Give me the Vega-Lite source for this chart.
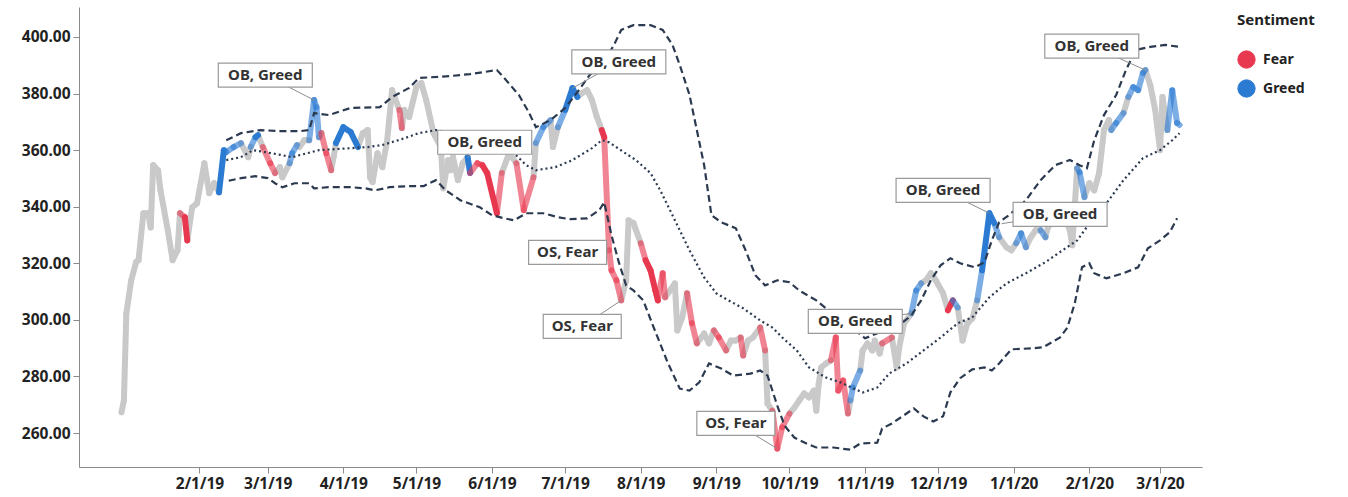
{
  "$schema": "https://vega.github.io/schema/vega-lite/v6.json",
  "autosize": {"type": "none"},
  "width": 1123,
  "height": 460,
  "padding": {"left": 79, "top": 7, "right": 146, "bottom": 30},
  "background": "white",
  "config": {
    "view": {"stroke": null},
    "font": "Noto Sans",
    "axis": {"labelFont": "Noto Sans", "labelFontSize": 15.5, "labelFontWeight": "bold", "labelColor": "#222222", "domainColor": "#8a8a8a", "tickColor": "#8a8a8a", "tickSize": 6, "grid": false, "title": null}
  },
  "encoding": {
    "x": {"field": "date", "type": "temporal",
      "scale": {"type": "utc", "domain": [{"year": 2018, "month": 12, "date": 13, "hours": 14, "utc": true}, {"year": 2020, "month": 3, "date": 18, "hours": 5, "utc": true}]},
      "axis": {"values": [
        {"year": 2019, "month": 2, "date": 1, "utc": true}, {"year": 2019, "month": 3, "date": 1, "utc": true}, {"year": 2019, "month": 4, "date": 1, "utc": true},
        {"year": 2019, "month": 5, "date": 1, "utc": true}, {"year": 2019, "month": 6, "date": 1, "utc": true}, {"year": 2019, "month": 7, "date": 1, "utc": true},
        {"year": 2019, "month": 8, "date": 1, "utc": true}, {"year": 2019, "month": 9, "date": 1, "utc": true}, {"year": 2019, "month": 10, "date": 1, "utc": true},
        {"year": 2019, "month": 11, "date": 1, "utc": true}, {"year": 2019, "month": 12, "date": 1, "utc": true}, {"year": 2020, "month": 1, "date": 1, "utc": true},
        {"year": 2020, "month": 2, "date": 1, "utc": true}, {"year": 2020, "month": 3, "date": 1, "utc": true}],
        "labelExpr": "utcFormat(datum.value, '%-m/%-d/%y')", "labelPadding": 3, "labelOverlap": false}},
    "y": {"field": "value", "type": "quantitative",
      "scale": {"domain": [248, 410.6], "nice": false, "zero": false},
      "axis": {"values": [260, 280, 300, 320, 340, 360, 380, 400], "format": ".2f", "labelPadding": 3}}
  },
  "layer": [
    {
      "data": {"format": {"parse": {"date": "date"}}, "values": [
        {"date": "2018-12-31", "value": 267.3, "sentiment": "Neutral"},
        {"date": "2019-01-01", "value": 271.5, "sentiment": "Neutral"},
        {"date": "2019-01-02", "value": 302.3, "sentiment": "Neutral"},
        {"date": "2019-01-04", "value": 314.0, "sentiment": "Neutral"},
        {"date": "2019-01-06", "value": 320.4, "sentiment": "Neutral"},
        {"date": "2019-01-07", "value": 321.1, "sentiment": "Neutral"},
        {"date": "2019-01-09", "value": 337.7, "sentiment": "Neutral"},
        {"date": "2019-01-11", "value": 337.7, "sentiment": "Neutral"},
        {"date": "2019-01-12", "value": 332.7, "sentiment": "Neutral"},
        {"date": "2019-01-13", "value": 354.7, "sentiment": "Neutral"},
        {"date": "2019-01-15", "value": 352.9, "sentiment": "Neutral"},
        {"date": "2019-01-16", "value": 345.8, "sentiment": "Neutral"},
        {"date": "2019-01-19", "value": 331.7, "sentiment": "Neutral"},
        {"date": "2019-01-21", "value": 321.1, "sentiment": "Neutral"},
        {"date": "2019-01-23", "value": 324.6, "sentiment": "Neutral"},
        {"date": "2019-01-24", "value": 337.7, "sentiment": "Fear", "signal": "weak"},
        {"date": "2019-01-26", "value": 336.3, "sentiment": "Fear", "signal": "strong"},
        {"date": "2019-01-27", "value": 328.1, "sentiment": "Neutral"},
        {"date": "2019-01-29", "value": 339.8, "sentiment": "Neutral"},
        {"date": "2019-01-31", "value": 341.2, "sentiment": "Neutral"},
        {"date": "2019-02-03", "value": 355.4, "sentiment": "Neutral"},
        {"date": "2019-02-05", "value": 344.8, "sentiment": "Neutral"},
        {"date": "2019-02-07", "value": 348.3, "sentiment": "Neutral"},
        {"date": "2019-02-09", "value": 345.1, "sentiment": "Greed", "signal": "strong"},
        {"date": "2019-02-11", "value": 360.0, "sentiment": "Greed", "signal": "weak"},
        {"date": "2019-02-12", "value": 359.3, "sentiment": "Greed", "signal": "weak"},
        {"date": "2019-02-15", "value": 361.1, "sentiment": "Greed", "signal": "weak"},
        {"date": "2019-02-18", "value": 362.5, "sentiment": "Neutral"},
        {"date": "2019-02-21", "value": 357.5, "sentiment": "Neutral"},
        {"date": "2019-02-22", "value": 361.1, "sentiment": "Greed", "signal": "weak"},
        {"date": "2019-02-24", "value": 364.6, "sentiment": "Greed", "signal": "strong"},
        {"date": "2019-02-25", "value": 365.3, "sentiment": "Neutral"},
        {"date": "2019-02-27", "value": 361.1, "sentiment": "Fear", "signal": "weak"},
        {"date": "2019-03-02", "value": 355.4, "sentiment": "Fear", "signal": "weak"},
        {"date": "2019-03-04", "value": 351.9, "sentiment": "Neutral"},
        {"date": "2019-03-06", "value": 354.0, "sentiment": "Neutral"},
        {"date": "2019-03-07", "value": 350.4, "sentiment": "Neutral"},
        {"date": "2019-03-10", "value": 355.4, "sentiment": "Greed", "signal": "weak"},
        {"date": "2019-03-11", "value": 358.9, "sentiment": "Greed", "signal": "weak"},
        {"date": "2019-03-13", "value": 361.8, "sentiment": "Neutral"},
        {"date": "2019-03-14", "value": 361.1, "sentiment": "Neutral"},
        {"date": "2019-03-16", "value": 363.5, "sentiment": "Neutral"},
        {"date": "2019-03-18", "value": 363.5, "sentiment": "Greed", "signal": "weak"},
        {"date": "2019-03-20", "value": 377.7, "sentiment": "Greed", "signal": "weak"},
        {"date": "2019-03-21", "value": 375.2, "sentiment": "Greed", "signal": "weak"},
        {"date": "2019-03-22", "value": 364.6, "sentiment": "Neutral"},
        {"date": "2019-03-23", "value": 366.0, "sentiment": "Fear", "signal": "weak"},
        {"date": "2019-03-25", "value": 358.9, "sentiment": "Fear", "signal": "weak"},
        {"date": "2019-03-27", "value": 352.9, "sentiment": "Neutral"},
        {"date": "2019-03-28", "value": 357.5, "sentiment": "Neutral"},
        {"date": "2019-03-29", "value": 362.5, "sentiment": "Greed", "signal": "strong"},
        {"date": "2019-04-01", "value": 368.1, "sentiment": "Greed", "signal": "strong"},
        {"date": "2019-04-04", "value": 366.4, "sentiment": "Greed", "signal": "strong"},
        {"date": "2019-04-07", "value": 361.1, "sentiment": "Neutral"},
        {"date": "2019-04-09", "value": 366.0, "sentiment": "Neutral"},
        {"date": "2019-04-11", "value": 367.1, "sentiment": "Neutral"},
        {"date": "2019-04-12", "value": 350.4, "sentiment": "Neutral"},
        {"date": "2019-04-13", "value": 348.7, "sentiment": "Neutral"},
        {"date": "2019-04-15", "value": 358.9, "sentiment": "Neutral"},
        {"date": "2019-04-17", "value": 354.0, "sentiment": "Neutral"},
        {"date": "2019-04-19", "value": 363.5, "sentiment": "Neutral"},
        {"date": "2019-04-21", "value": 381.2, "sentiment": "Neutral"},
        {"date": "2019-04-24", "value": 374.2, "sentiment": "Fear", "signal": "weak"},
        {"date": "2019-04-25", "value": 367.8, "sentiment": "Neutral"},
        {"date": "2019-04-26", "value": 374.2, "sentiment": "Neutral"},
        {"date": "2019-04-28", "value": 371.7, "sentiment": "Neutral"},
        {"date": "2019-05-01", "value": 382.3, "sentiment": "Neutral"},
        {"date": "2019-05-03", "value": 383.7, "sentiment": "Neutral"},
        {"date": "2019-05-05", "value": 377.7, "sentiment": "Neutral"},
        {"date": "2019-05-08", "value": 366.0, "sentiment": "Neutral"},
        {"date": "2019-05-11", "value": 361.1, "sentiment": "Neutral"},
        {"date": "2019-05-12", "value": 346.5, "sentiment": "Neutral"},
        {"date": "2019-05-14", "value": 356.5, "sentiment": "Neutral"},
        {"date": "2019-05-15", "value": 352.9, "sentiment": "Neutral"},
        {"date": "2019-05-16", "value": 357.5, "sentiment": "Neutral"},
        {"date": "2019-05-18", "value": 349.4, "sentiment": "Neutral"},
        {"date": "2019-05-20", "value": 355.4, "sentiment": "Neutral"},
        {"date": "2019-05-22", "value": 357.5, "sentiment": "Greed", "signal": "strong"},
        {"date": "2019-05-23", "value": 351.9, "sentiment": "Fear", "signal": "weak"},
        {"date": "2019-05-26", "value": 355.4, "sentiment": "Fear", "signal": "weak"},
        {"date": "2019-05-28", "value": 354.7, "sentiment": "Fear", "signal": "strong"},
        {"date": "2019-05-30", "value": 351.9, "sentiment": "Fear", "signal": "strong"},
        {"date": "2019-06-03", "value": 337.7, "sentiment": "Fear", "signal": "weak"},
        {"date": "2019-06-05", "value": 351.9, "sentiment": "Neutral"},
        {"date": "2019-06-08", "value": 358.9, "sentiment": "Neutral"},
        {"date": "2019-06-11", "value": 355.4, "sentiment": "Fear", "signal": "weak"},
        {"date": "2019-06-14", "value": 338.8, "sentiment": "Fear", "signal": "weak"},
        {"date": "2019-06-18", "value": 350.4, "sentiment": "Neutral"},
        {"date": "2019-06-19", "value": 362.5, "sentiment": "Greed", "signal": "weak"},
        {"date": "2019-06-22", "value": 368.1, "sentiment": "Greed", "signal": "weak"},
        {"date": "2019-06-25", "value": 370.6, "sentiment": "Neutral"},
        {"date": "2019-06-26", "value": 361.1, "sentiment": "Neutral"},
        {"date": "2019-06-28", "value": 368.1, "sentiment": "Greed", "signal": "weak"},
        {"date": "2019-07-01", "value": 374.2, "sentiment": "Greed", "signal": "strong"},
        {"date": "2019-07-04", "value": 381.9, "sentiment": "Greed", "signal": "strong"},
        {"date": "2019-07-06", "value": 378.8, "sentiment": "Neutral"},
        {"date": "2019-07-08", "value": 380.2, "sentiment": "Neutral"},
        {"date": "2019-07-10", "value": 381.2, "sentiment": "Neutral"},
        {"date": "2019-07-12", "value": 377.7, "sentiment": "Neutral"},
        {"date": "2019-07-14", "value": 371.7, "sentiment": "Neutral"},
        {"date": "2019-07-16", "value": 367.1, "sentiment": "Fear", "signal": "strong"},
        {"date": "2019-07-17", "value": 364.6, "sentiment": "Fear", "signal": "weak"},
        {"date": "2019-07-19", "value": 324.6, "sentiment": "Fear", "signal": "weak"},
        {"date": "2019-07-20", "value": 317.5, "sentiment": "Fear", "signal": "weak"},
        {"date": "2019-07-22", "value": 314.0, "sentiment": "Fear", "signal": "weak"},
        {"date": "2019-07-24", "value": 306.9, "sentiment": "Neutral"},
        {"date": "2019-07-26", "value": 314.0, "sentiment": "Neutral"},
        {"date": "2019-07-27", "value": 335.2, "sentiment": "Neutral"},
        {"date": "2019-07-29", "value": 334.2, "sentiment": "Neutral"},
        {"date": "2019-08-01", "value": 327.1, "sentiment": "Fear", "signal": "weak"},
        {"date": "2019-08-03", "value": 321.1, "sentiment": "Fear", "signal": "strong"},
        {"date": "2019-08-05", "value": 317.5, "sentiment": "Fear", "signal": "strong"},
        {"date": "2019-08-07", "value": 310.4, "sentiment": "Fear", "signal": "strong"},
        {"date": "2019-08-08", "value": 306.9, "sentiment": "Fear", "signal": "weak"},
        {"date": "2019-08-10", "value": 316.5, "sentiment": "Fear", "signal": "weak"},
        {"date": "2019-08-11", "value": 308.0, "sentiment": "Neutral"},
        {"date": "2019-08-13", "value": 310.4, "sentiment": "Neutral"},
        {"date": "2019-08-15", "value": 312.9, "sentiment": "Neutral"},
        {"date": "2019-08-16", "value": 296.3, "sentiment": "Neutral"},
        {"date": "2019-08-18", "value": 300.9, "sentiment": "Neutral"},
        {"date": "2019-08-20", "value": 309.4, "sentiment": "Fear", "signal": "weak"},
        {"date": "2019-08-22", "value": 298.8, "sentiment": "Fear", "signal": "weak"},
        {"date": "2019-08-24", "value": 291.7, "sentiment": "Neutral"},
        {"date": "2019-08-27", "value": 295.2, "sentiment": "Neutral"},
        {"date": "2019-08-29", "value": 291.7, "sentiment": "Neutral"},
        {"date": "2019-08-31", "value": 296.3, "sentiment": "Fear", "signal": "weak"},
        {"date": "2019-09-02", "value": 293.8, "sentiment": "Fear", "signal": "weak"},
        {"date": "2019-09-05", "value": 289.2, "sentiment": "Neutral"},
        {"date": "2019-09-07", "value": 292.7, "sentiment": "Neutral"},
        {"date": "2019-09-09", "value": 292.7, "sentiment": "Neutral"},
        {"date": "2019-09-11", "value": 293.8, "sentiment": "Fear", "signal": "weak"},
        {"date": "2019-09-12", "value": 287.4, "sentiment": "Neutral"},
        {"date": "2019-09-14", "value": 292.7, "sentiment": "Neutral"},
        {"date": "2019-09-16", "value": 293.8, "sentiment": "Neutral"},
        {"date": "2019-09-19", "value": 297.3, "sentiment": "Fear", "signal": "weak"},
        {"date": "2019-09-21", "value": 289.2, "sentiment": "Neutral"},
        {"date": "2019-09-22", "value": 270.4, "sentiment": "Neutral"},
        {"date": "2019-09-24", "value": 267.9, "sentiment": "Fear", "signal": "weak"},
        {"date": "2019-09-26", "value": 254.5, "sentiment": "Fear", "signal": "weak"},
        {"date": "2019-09-28", "value": 262.0, "sentiment": "Fear", "signal": "weak"},
        {"date": "2019-10-01", "value": 266.9, "sentiment": "Neutral"},
        {"date": "2019-10-03", "value": 269.0, "sentiment": "Neutral"},
        {"date": "2019-10-05", "value": 271.5, "sentiment": "Neutral"},
        {"date": "2019-10-07", "value": 274.0, "sentiment": "Neutral"},
        {"date": "2019-10-09", "value": 272.6, "sentiment": "Neutral"},
        {"date": "2019-10-11", "value": 275.0, "sentiment": "Neutral"},
        {"date": "2019-10-12", "value": 267.9, "sentiment": "Neutral"},
        {"date": "2019-10-13", "value": 277.5, "sentiment": "Neutral"},
        {"date": "2019-10-14", "value": 283.2, "sentiment": "Neutral"},
        {"date": "2019-10-16", "value": 284.6, "sentiment": "Neutral"},
        {"date": "2019-10-18", "value": 285.7, "sentiment": "Fear", "signal": "weak"},
        {"date": "2019-10-20", "value": 293.8, "sentiment": "Fear", "signal": "weak"},
        {"date": "2019-10-21", "value": 275.0, "sentiment": "Fear", "signal": "weak"},
        {"date": "2019-10-23", "value": 278.6, "sentiment": "Fear", "signal": "weak"},
        {"date": "2019-10-25", "value": 266.9, "sentiment": "Neutral"},
        {"date": "2019-10-26", "value": 271.5, "sentiment": "Greed", "signal": "weak"},
        {"date": "2019-10-27", "value": 276.1, "sentiment": "Greed", "signal": "weak"},
        {"date": "2019-10-30", "value": 282.1, "sentiment": "Neutral"},
        {"date": "2019-10-31", "value": 289.2, "sentiment": "Neutral"},
        {"date": "2019-11-02", "value": 291.7, "sentiment": "Neutral"},
        {"date": "2019-11-04", "value": 289.2, "sentiment": "Neutral"},
        {"date": "2019-11-05", "value": 292.7, "sentiment": "Neutral"},
        {"date": "2019-11-07", "value": 288.1, "sentiment": "Neutral"},
        {"date": "2019-11-08", "value": 291.7, "sentiment": "Fear", "signal": "weak"},
        {"date": "2019-11-12", "value": 293.8, "sentiment": "Neutral"},
        {"date": "2019-11-14", "value": 283.2, "sentiment": "Neutral"},
        {"date": "2019-11-15", "value": 290.3, "sentiment": "Neutral"},
        {"date": "2019-11-17", "value": 298.8, "sentiment": "Neutral"},
        {"date": "2019-11-20", "value": 302.3, "sentiment": "Greed", "signal": "weak"},
        {"date": "2019-11-22", "value": 310.4, "sentiment": "Greed", "signal": "weak"},
        {"date": "2019-11-24", "value": 312.9, "sentiment": "Neutral"},
        {"date": "2019-11-26", "value": 314.0, "sentiment": "Neutral"},
        {"date": "2019-11-28", "value": 316.5, "sentiment": "Neutral"},
        {"date": "2019-11-30", "value": 314.0, "sentiment": "Neutral"},
        {"date": "2019-12-03", "value": 309.4, "sentiment": "Neutral"},
        {"date": "2019-12-05", "value": 303.4, "sentiment": "Fear", "signal": "strong"},
        {"date": "2019-12-07", "value": 306.9, "sentiment": "Greed", "signal": "weak"},
        {"date": "2019-12-09", "value": 304.4, "sentiment": "Neutral"},
        {"date": "2019-12-11", "value": 292.7, "sentiment": "Neutral"},
        {"date": "2019-12-13", "value": 298.8, "sentiment": "Neutral"},
        {"date": "2019-12-15", "value": 300.5, "sentiment": "Neutral"},
        {"date": "2019-12-17", "value": 306.9, "sentiment": "Greed", "signal": "weak"},
        {"date": "2019-12-19", "value": 317.5, "sentiment": "Greed", "signal": "strong"},
        {"date": "2019-12-22", "value": 337.7, "sentiment": "Greed", "signal": "strong"},
        {"date": "2019-12-24", "value": 334.2, "sentiment": "Greed", "signal": "weak"},
        {"date": "2019-12-26", "value": 329.2, "sentiment": "Neutral"},
        {"date": "2019-12-29", "value": 325.7, "sentiment": "Neutral"},
        {"date": "2019-12-31", "value": 324.6, "sentiment": "Neutral"},
        {"date": "2020-01-02", "value": 327.1, "sentiment": "Greed", "signal": "weak"},
        {"date": "2020-01-04", "value": 330.6, "sentiment": "Greed", "signal": "weak"},
        {"date": "2020-01-06", "value": 325.7, "sentiment": "Neutral"},
        {"date": "2020-01-08", "value": 329.2, "sentiment": "Neutral"},
        {"date": "2020-01-10", "value": 331.7, "sentiment": "Neutral"},
        {"date": "2020-01-12", "value": 331.7, "sentiment": "Greed", "signal": "weak"},
        {"date": "2020-01-14", "value": 329.2, "sentiment": "Neutral"},
        {"date": "2020-01-15", "value": 332.7, "sentiment": "Neutral"},
        {"date": "2020-01-18", "value": 336.3, "sentiment": "Neutral"},
        {"date": "2020-01-22", "value": 336.3, "sentiment": "Neutral"},
        {"date": "2020-01-24", "value": 331.7, "sentiment": "Neutral"},
        {"date": "2020-01-25", "value": 326.4, "sentiment": "Neutral"},
        {"date": "2020-01-27", "value": 353.6, "sentiment": "Greed", "signal": "weak"},
        {"date": "2020-01-28", "value": 352.2, "sentiment": "Greed", "signal": "weak"},
        {"date": "2020-01-30", "value": 343.4, "sentiment": "Neutral"},
        {"date": "2020-02-01", "value": 348.3, "sentiment": "Neutral"},
        {"date": "2020-02-03", "value": 345.8, "sentiment": "Neutral"},
        {"date": "2020-02-05", "value": 351.9, "sentiment": "Neutral"},
        {"date": "2020-02-07", "value": 367.1, "sentiment": "Neutral"},
        {"date": "2020-02-09", "value": 370.6, "sentiment": "Neutral"},
        {"date": "2020-02-10", "value": 367.1, "sentiment": "Greed", "signal": "weak"},
        {"date": "2020-02-12", "value": 369.6, "sentiment": "Greed", "signal": "weak"},
        {"date": "2020-02-15", "value": 373.1, "sentiment": "Neutral"},
        {"date": "2020-02-17", "value": 378.8, "sentiment": "Greed", "signal": "weak"},
        {"date": "2020-02-19", "value": 382.3, "sentiment": "Greed", "signal": "weak"},
        {"date": "2020-02-21", "value": 381.2, "sentiment": "Greed", "signal": "weak"},
        {"date": "2020-02-23", "value": 387.3, "sentiment": "Greed", "signal": "weak"},
        {"date": "2020-02-24", "value": 388.3, "sentiment": "Neutral"},
        {"date": "2020-02-26", "value": 383.0, "sentiment": "Neutral"},
        {"date": "2020-02-28", "value": 374.2, "sentiment": "Neutral"},
        {"date": "2020-03-01", "value": 360.0, "sentiment": "Neutral"},
        {"date": "2020-03-02", "value": 378.8, "sentiment": "Neutral"},
        {"date": "2020-03-04", "value": 367.1, "sentiment": "Greed", "signal": "weak"},
        {"date": "2020-03-06", "value": 381.2, "sentiment": "Greed", "signal": "weak"},
        {"date": "2020-03-08", "value": 369.6, "sentiment": "Greed", "signal": "weak"},
        {"date": "2020-03-09", "value": 368.9, "sentiment": "Neutral"}
      ]},
      "transform": [
        {"window": [{"op": "lead", "field": "date", "as": "date2"}, {"op": "lead", "field": "value", "as": "value2"}], "sort": [{"field": "date", "order": "ascending"}]},
        {"filter": "datum.date2 != null"}
      ],
      "layer": [
        {
          "transform": [{"filter": "datum.sentiment === 'Neutral'"}],
          "mark": {"type": "rule", "strokeWidth": 6, "strokeCap": "round", "color": "#c9c9c9"},
          "encoding": {"x2": {"field": "date2"}, "y2": {"field": "value2"}}
        },
        {
          "transform": [{"filter": "datum.sentiment !== 'Neutral'"}],
          "mark": {"type": "rule", "strokeWidth": 6, "strokeCap": "round"},
          "encoding": {
            "x2": {"field": "date2"}, "y2": {"field": "value2"},
            "color": {"field": "sentiment", "type": "nominal",
              "scale": {"domain": ["Fear", "Greed"], "range": ["#e8384f", "#2b7bd3"]},
              "legend": {"title": "Sentiment", "orient": "none", "legendX": 1158, "legendY": 6,
                "symbolType": "circle", "symbolSize": 300, "symbolStrokeWidth": 1, "symbolOpacity": 1,
                "titleFont": "Noto Sans", "titleFontSize": 15, "titleFontWeight": "bold", "titleColor": "#222222", "titlePadding": 22,
                "labelFont": "Noto Sans", "labelFontSize": 14, "labelFontWeight": "bold", "labelColor": "#222222", "labelOffset": 7, "rowPadding": 6,
                "encode": {"symbols": {"update": {"fill": {"scale": "color", "field": "value"}, "strokeWidth": {"value": 1}, "opacity": {"value": 1}}}}}},
            "opacity": {"field": "signal", "type": "nominal", "scale": {"domain": ["strong", "weak"], "range": [1, 0.62]}, "legend": null}
          }
        }
      ]
    },
    {
      "data": {"format": {"parse": {"date": "date"}}, "values": [
        {"date": "2019-02-12", "band": "upper", "value": 363.5},
        {"date": "2019-02-18", "band": "upper", "value": 366.0},
        {"date": "2019-02-26", "band": "upper", "value": 367.1},
        {"date": "2019-03-06", "band": "upper", "value": 366.7},
        {"date": "2019-03-14", "band": "upper", "value": 366.7},
        {"date": "2019-03-18", "band": "upper", "value": 367.1},
        {"date": "2019-03-20", "band": "upper", "value": 373.1},
        {"date": "2019-03-26", "band": "upper", "value": 372.4},
        {"date": "2019-04-04", "band": "upper", "value": 374.9},
        {"date": "2019-04-16", "band": "upper", "value": 375.2},
        {"date": "2019-04-21", "band": "upper", "value": 378.8},
        {"date": "2019-04-28", "band": "upper", "value": 382.0},
        {"date": "2019-05-02", "band": "upper", "value": 385.5},
        {"date": "2019-05-15", "band": "upper", "value": 386.2},
        {"date": "2019-05-23", "band": "upper", "value": 386.9},
        {"date": "2019-06-03", "band": "upper", "value": 388.3},
        {"date": "2019-06-06", "band": "upper", "value": 385.5},
        {"date": "2019-06-12", "band": "upper", "value": 379.5},
        {"date": "2019-06-16", "band": "upper", "value": 373.5},
        {"date": "2019-06-19", "band": "upper", "value": 368.1},
        {"date": "2019-06-25", "band": "upper", "value": 370.6},
        {"date": "2019-07-01", "band": "upper", "value": 374.9},
        {"date": "2019-07-06", "band": "upper", "value": 380.5},
        {"date": "2019-07-11", "band": "upper", "value": 386.5},
        {"date": "2019-07-17", "band": "upper", "value": 391.2},
        {"date": "2019-07-21", "band": "upper", "value": 397.2},
        {"date": "2019-07-24", "band": "upper", "value": 402.5},
        {"date": "2019-07-29", "band": "upper", "value": 404.2},
        {"date": "2019-08-05", "band": "upper", "value": 404.2},
        {"date": "2019-08-10", "band": "upper", "value": 402.5},
        {"date": "2019-08-14", "band": "upper", "value": 397.2},
        {"date": "2019-08-17", "band": "upper", "value": 390.1},
        {"date": "2019-08-21", "band": "upper", "value": 379.5},
        {"date": "2019-08-24", "band": "upper", "value": 367.1},
        {"date": "2019-08-27", "band": "upper", "value": 354.7},
        {"date": "2019-08-30", "band": "upper", "value": 337.0},
        {"date": "2019-09-03", "band": "upper", "value": 334.5},
        {"date": "2019-09-09", "band": "upper", "value": 332.4},
        {"date": "2019-09-13", "band": "upper", "value": 324.6},
        {"date": "2019-09-17", "band": "upper", "value": 315.8},
        {"date": "2019-09-21", "band": "upper", "value": 312.2},
        {"date": "2019-09-26", "band": "upper", "value": 314.0},
        {"date": "2019-10-01", "band": "upper", "value": 313.3},
        {"date": "2019-10-05", "band": "upper", "value": 310.4},
        {"date": "2019-10-12", "band": "upper", "value": 306.9},
        {"date": "2019-10-16", "band": "upper", "value": 304.1},
        {"date": "2019-10-22", "band": "upper", "value": 301.6},
        {"date": "2019-10-28", "band": "upper", "value": 296.3},
        {"date": "2019-11-01", "band": "upper", "value": 293.5},
        {"date": "2019-11-07", "band": "upper", "value": 295.6},
        {"date": "2019-11-15", "band": "upper", "value": 298.1},
        {"date": "2019-11-20", "band": "upper", "value": 301.6},
        {"date": "2019-11-24", "band": "upper", "value": 306.9},
        {"date": "2019-11-28", "band": "upper", "value": 314.0},
        {"date": "2019-12-02", "band": "upper", "value": 319.3},
        {"date": "2019-12-06", "band": "upper", "value": 321.8},
        {"date": "2019-12-10", "band": "upper", "value": 320.0},
        {"date": "2019-12-16", "band": "upper", "value": 318.6},
        {"date": "2019-12-20", "band": "upper", "value": 320.4},
        {"date": "2019-12-23", "band": "upper", "value": 328.1},
        {"date": "2019-12-26", "band": "upper", "value": 334.5},
        {"date": "2019-12-30", "band": "upper", "value": 337.0},
        {"date": "2020-01-06", "band": "upper", "value": 342.3},
        {"date": "2020-01-12", "band": "upper", "value": 349.4},
        {"date": "2020-01-18", "band": "upper", "value": 354.7},
        {"date": "2020-01-24", "band": "upper", "value": 356.5},
        {"date": "2020-01-28", "band": "upper", "value": 354.7},
        {"date": "2020-01-31", "band": "upper", "value": 353.6},
        {"date": "2020-02-03", "band": "upper", "value": 363.5},
        {"date": "2020-02-07", "band": "upper", "value": 372.4},
        {"date": "2020-02-12", "band": "upper", "value": 379.5},
        {"date": "2020-02-16", "band": "upper", "value": 388.3},
        {"date": "2020-02-20", "band": "upper", "value": 395.4},
        {"date": "2020-02-26", "band": "upper", "value": 396.5},
        {"date": "2020-03-03", "band": "upper", "value": 397.2},
        {"date": "2020-03-09", "band": "upper", "value": 396.5},
        {"date": "2019-02-13", "band": "lower", "value": 349.2},
        {"date": "2019-02-18", "band": "lower", "value": 350.1},
        {"date": "2019-02-24", "band": "lower", "value": 350.8},
        {"date": "2019-03-01", "band": "lower", "value": 350.1},
        {"date": "2019-03-04", "band": "lower", "value": 348.3},
        {"date": "2019-03-07", "band": "lower", "value": 346.9},
        {"date": "2019-03-12", "band": "lower", "value": 348.3},
        {"date": "2019-03-18", "band": "lower", "value": 348.3},
        {"date": "2019-03-20", "band": "lower", "value": 346.5},
        {"date": "2019-03-26", "band": "lower", "value": 346.9},
        {"date": "2019-04-04", "band": "lower", "value": 346.9},
        {"date": "2019-04-10", "band": "lower", "value": 346.5},
        {"date": "2019-04-14", "band": "lower", "value": 345.8},
        {"date": "2019-04-20", "band": "lower", "value": 346.9},
        {"date": "2019-04-28", "band": "lower", "value": 347.3},
        {"date": "2019-05-04", "band": "lower", "value": 347.3},
        {"date": "2019-05-09", "band": "lower", "value": 349.4},
        {"date": "2019-05-13", "band": "lower", "value": 345.8},
        {"date": "2019-05-19", "band": "lower", "value": 342.3},
        {"date": "2019-05-27", "band": "lower", "value": 339.8},
        {"date": "2019-06-01", "band": "lower", "value": 337.0},
        {"date": "2019-06-06", "band": "lower", "value": 335.9},
        {"date": "2019-06-10", "band": "lower", "value": 335.2},
        {"date": "2019-06-15", "band": "lower", "value": 337.7},
        {"date": "2019-06-22", "band": "lower", "value": 337.7},
        {"date": "2019-06-28", "band": "lower", "value": 336.3},
        {"date": "2019-07-03", "band": "lower", "value": 335.6},
        {"date": "2019-07-10", "band": "lower", "value": 335.9},
        {"date": "2019-07-15", "band": "lower", "value": 338.8},
        {"date": "2019-07-17", "band": "lower", "value": 341.6},
        {"date": "2019-07-20", "band": "lower", "value": 329.9},
        {"date": "2019-07-23", "band": "lower", "value": 320.4},
        {"date": "2019-07-26", "band": "lower", "value": 312.2},
        {"date": "2019-07-29", "band": "lower", "value": 310.4},
        {"date": "2019-08-02", "band": "lower", "value": 306.9},
        {"date": "2019-08-06", "band": "lower", "value": 298.0},
        {"date": "2019-08-12", "band": "lower", "value": 285.0},
        {"date": "2019-08-17", "band": "lower", "value": 275.7},
        {"date": "2019-08-21", "band": "lower", "value": 275.0},
        {"date": "2019-08-25", "band": "lower", "value": 277.9},
        {"date": "2019-08-29", "band": "lower", "value": 284.6},
        {"date": "2019-09-03", "band": "lower", "value": 282.8},
        {"date": "2019-09-08", "band": "lower", "value": 280.3},
        {"date": "2019-09-15", "band": "lower", "value": 281.0},
        {"date": "2019-09-19", "band": "lower", "value": 282.1},
        {"date": "2019-09-22", "band": "lower", "value": 280.3},
        {"date": "2019-09-26", "band": "lower", "value": 269.7},
        {"date": "2019-09-29", "band": "lower", "value": 262.6},
        {"date": "2019-10-03", "band": "lower", "value": 258.4},
        {"date": "2019-10-08", "band": "lower", "value": 256.3},
        {"date": "2019-10-12", "band": "lower", "value": 254.9},
        {"date": "2019-10-19", "band": "lower", "value": 254.9},
        {"date": "2019-10-26", "band": "lower", "value": 254.1},
        {"date": "2019-10-30", "band": "lower", "value": 256.3},
        {"date": "2019-11-06", "band": "lower", "value": 256.6},
        {"date": "2019-11-08", "band": "lower", "value": 261.6},
        {"date": "2019-11-12", "band": "lower", "value": 263.4},
        {"date": "2019-11-18", "band": "lower", "value": 266.9},
        {"date": "2019-11-21", "band": "lower", "value": 268.7},
        {"date": "2019-11-25", "band": "lower", "value": 265.9},
        {"date": "2019-11-29", "band": "lower", "value": 264.1},
        {"date": "2019-12-03", "band": "lower", "value": 265.9},
        {"date": "2019-12-06", "band": "lower", "value": 274.4},
        {"date": "2019-12-10", "band": "lower", "value": 279.4},
        {"date": "2019-12-15", "band": "lower", "value": 282.5},
        {"date": "2019-12-20", "band": "lower", "value": 283.2},
        {"date": "2019-12-23", "band": "lower", "value": 282.1},
        {"date": "2019-12-26", "band": "lower", "value": 284.6},
        {"date": "2019-12-31", "band": "lower", "value": 289.6},
        {"date": "2020-01-08", "band": "lower", "value": 289.9},
        {"date": "2020-01-13", "band": "lower", "value": 290.3},
        {"date": "2020-01-20", "band": "lower", "value": 293.8},
        {"date": "2020-01-23", "band": "lower", "value": 297.3},
        {"date": "2020-01-26", "band": "lower", "value": 305.8},
        {"date": "2020-01-29", "band": "lower", "value": 318.6},
        {"date": "2020-02-01", "band": "lower", "value": 320.0},
        {"date": "2020-02-03", "band": "lower", "value": 316.5},
        {"date": "2020-02-08", "band": "lower", "value": 314.7},
        {"date": "2020-02-15", "band": "lower", "value": 316.5},
        {"date": "2020-02-21", "band": "lower", "value": 318.6},
        {"date": "2020-02-25", "band": "lower", "value": 325.3},
        {"date": "2020-03-01", "band": "lower", "value": 328.1},
        {"date": "2020-03-05", "band": "lower", "value": 331.0},
        {"date": "2020-03-08", "band": "lower", "value": 335.9},
        {"date": "2019-02-12", "band": "middle", "value": 356.5},
        {"date": "2019-02-18", "band": "middle", "value": 357.5},
        {"date": "2019-02-23", "band": "middle", "value": 360.0},
        {"date": "2019-02-28", "band": "middle", "value": 359.3},
        {"date": "2019-03-07", "band": "middle", "value": 358.2},
        {"date": "2019-03-11", "band": "middle", "value": 357.5},
        {"date": "2019-03-17", "band": "middle", "value": 358.9},
        {"date": "2019-03-22", "band": "middle", "value": 360.0},
        {"date": "2019-04-04", "band": "middle", "value": 360.7},
        {"date": "2019-04-11", "band": "middle", "value": 361.1},
        {"date": "2019-04-17", "band": "middle", "value": 361.8},
        {"date": "2019-04-25", "band": "middle", "value": 363.9},
        {"date": "2019-05-02", "band": "middle", "value": 366.0},
        {"date": "2019-05-09", "band": "middle", "value": 367.1},
        {"date": "2019-05-17", "band": "middle", "value": 365.7},
        {"date": "2019-05-25", "band": "middle", "value": 363.5},
        {"date": "2019-06-02", "band": "middle", "value": 361.4},
        {"date": "2019-06-10", "band": "middle", "value": 358.9},
        {"date": "2019-06-15", "band": "middle", "value": 354.7},
        {"date": "2019-06-19", "band": "middle", "value": 352.9},
        {"date": "2019-06-27", "band": "middle", "value": 354.0},
        {"date": "2019-07-04", "band": "middle", "value": 356.5},
        {"date": "2019-07-12", "band": "middle", "value": 360.7},
        {"date": "2019-07-16", "band": "middle", "value": 363.5},
        {"date": "2019-07-19", "band": "middle", "value": 362.8},
        {"date": "2019-07-25", "band": "middle", "value": 359.3},
        {"date": "2019-07-30", "band": "middle", "value": 356.5},
        {"date": "2019-08-05", "band": "middle", "value": 351.9},
        {"date": "2019-08-09", "band": "middle", "value": 345.8},
        {"date": "2019-08-13", "band": "middle", "value": 338.8},
        {"date": "2019-08-17", "band": "middle", "value": 331.7},
        {"date": "2019-08-21", "band": "middle", "value": 324.6},
        {"date": "2019-08-27", "band": "middle", "value": 315.0},
        {"date": "2019-09-01", "band": "middle", "value": 309.4},
        {"date": "2019-09-06", "band": "middle", "value": 306.9},
        {"date": "2019-09-12", "band": "middle", "value": 304.1},
        {"date": "2019-09-19", "band": "middle", "value": 299.8},
        {"date": "2019-09-24", "band": "middle", "value": 297.3},
        {"date": "2019-09-28", "band": "middle", "value": 293.8},
        {"date": "2019-10-04", "band": "middle", "value": 289.2},
        {"date": "2019-10-09", "band": "middle", "value": 283.2},
        {"date": "2019-10-16", "band": "middle", "value": 279.6},
        {"date": "2019-10-22", "band": "middle", "value": 277.9},
        {"date": "2019-10-31", "band": "middle", "value": 274.3},
        {"date": "2019-11-06", "band": "middle", "value": 276.1},
        {"date": "2019-11-11", "band": "middle", "value": 281.1},
        {"date": "2019-11-18", "band": "middle", "value": 284.6},
        {"date": "2019-11-25", "band": "middle", "value": 289.2},
        {"date": "2019-12-02", "band": "middle", "value": 293.8},
        {"date": "2019-12-09", "band": "middle", "value": 298.8},
        {"date": "2019-12-15", "band": "middle", "value": 300.9},
        {"date": "2019-12-22", "band": "middle", "value": 308.0},
        {"date": "2019-12-29", "band": "middle", "value": 312.9},
        {"date": "2020-01-06", "band": "middle", "value": 316.5},
        {"date": "2020-01-14", "band": "middle", "value": 320.4},
        {"date": "2020-01-21", "band": "middle", "value": 324.6},
        {"date": "2020-01-27", "band": "middle", "value": 328.1},
        {"date": "2020-02-02", "band": "middle", "value": 335.2},
        {"date": "2020-02-08", "band": "middle", "value": 341.2},
        {"date": "2020-02-15", "band": "middle", "value": 349.4},
        {"date": "2020-02-23", "band": "middle", "value": 357.2},
        {"date": "2020-03-01", "band": "middle", "value": 360.0},
        {"date": "2020-03-06", "band": "middle", "value": 363.5},
        {"date": "2020-03-09", "band": "middle", "value": 366.0}
      ]},
      "mark": {"type": "line", "strokeWidth": 2.2, "color": "#2b3a50", "interpolate": "linear"},
      "encoding": {
        "detail": {"field": "band", "type": "nominal"},
        "strokeDash": {"field": "band", "type": "nominal", "scale": {"domain": ["upper", "lower", "middle"], "range": [[7, 4], [7, 4], [2, 3]]}, "legend": null}
      }
    },
    {
      "data": {"format": {"parse": {"date": "date", "label_date": "date"}}, "values": [
        {"date": "2019-03-20", "value": 377.7, "label_date": "2019-02-28", "label_value": 386.5, "label": "OB, Greed"},
        {"date": "2019-05-22", "value": 357.5, "label_date": "2019-05-29", "label_value": 362.8, "label": "OB, Greed"},
        {"date": "2019-07-04", "value": 381.9, "label_date": "2019-07-23", "label_value": 391.2, "label": "OB, Greed"},
        {"date": "2019-07-19", "value": 324.6, "label_date": "2019-07-02", "label_value": 323.9, "label": "OS, Fear"},
        {"date": "2019-07-24", "value": 306.9, "label_date": "2019-07-08", "label_value": 297.7, "label": "OS, Fear"},
        {"date": "2019-09-26", "value": 254.5, "label_date": "2019-09-09", "label_value": 263.4, "label": "OS, Fear"},
        {"date": "2019-11-20", "value": 302.3, "label_date": "2019-10-28", "label_value": 299.5, "label": "OB, Greed"},
        {"date": "2019-12-22", "value": 337.7, "label_date": "2019-12-03", "label_value": 345.8, "label": "OB, Greed"},
        {"date": "2019-12-27", "value": 334.0, "label_date": "2020-01-20", "label_value": 337.3, "label": "OB, Greed"},
        {"date": "2020-02-24", "value": 388.3, "label_date": "2020-02-02", "label_value": 396.8, "label": "OB, Greed"}
      ]},
      "layer": [
        {
          "mark": {"type": "rule", "color": "#8c8c8c", "strokeWidth": 1},
          "encoding": {"x2": {"field": "label_date"}, "y2": {"field": "label_value"}}
        },
        {
          "mark": {"type": "point", "filled": true, "fill": "white", "stroke": "#9a9a9a", "strokeWidth": 1.2, "opacity": 1, "size": 4},
          "encoding": {
            "x": {"field": "label_date", "type": "temporal"},
            "y": {"field": "label_value", "type": "quantitative"},
            "shape": {"field": "label", "type": "nominal", "scale": {"domain": ["OB, Greed", "OS, Fear"], "range": ["M-47,-12H47V12H-47Z", "M-39,-12H39V12H-39Z"]}, "legend": null}
          }
        },
        {
          "mark": {"type": "text", "font": "Noto Sans", "fontSize": 15, "fontWeight": "bold", "color": "#333333", "align": "center", "baseline": "middle", "dy": 0},
          "encoding": {
            "x": {"field": "label_date", "type": "temporal"},
            "y": {"field": "label_value", "type": "quantitative"},
            "text": {"field": "label"}
          }
        }
      ]
    }
  ]
}
